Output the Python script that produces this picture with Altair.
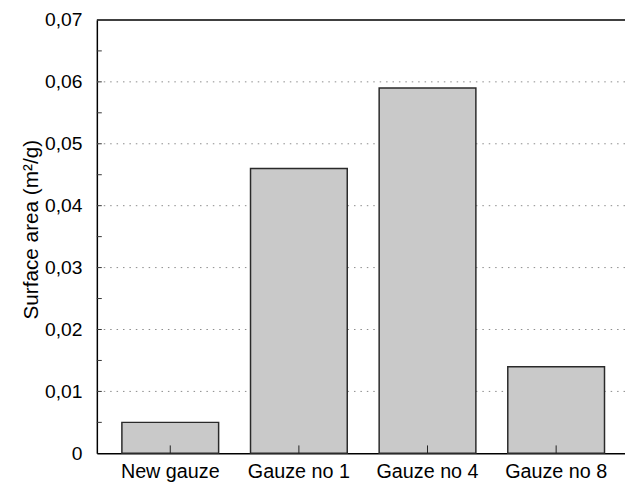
import altair as alt
import pandas as pd

categories = ["New gauze", "Gauze no 1", "Gauze no 4", "Gauze no 8"]
values = [0.005, 0.046, 0.059, 0.014]
grid_values = [0.01, 0.02, 0.03, 0.04, 0.05, 0.06]
label_values = [0, 0.01, 0.02, 0.03, 0.04, 0.05, 0.06, 0.07]
minor_ticks = [0.005, 0.01, 0.015, 0.02, 0.025, 0.03, 0.035, 0.04, 0.045,
               0.05, 0.055, 0.06, 0.065]
y_max = 0.07
y_title = "Surface area (m²/g)"

W, H = 535, 439
FONT = "Liberation Sans"

df = pd.DataFrame({"cat": categories, "val": values})
ticks_df = pd.DataFrame({"t": minor_ticks})
top_df = pd.DataFrame({"t": [y_max]})

x_scale = alt.Scale(domain=categories, paddingInner=0.248, paddingOuter=0.177, align=0.55)
y_scale = alt.Scale(domain=[0, y_max], nice=False, zero=True)

bars = alt.Chart(df).mark_bar(
    fill="#c9c9c9", stroke="#2a2a2a", strokeWidth=1.5
).encode(
    x=alt.X("cat:N", scale=x_scale, sort=categories,
            axis=alt.Axis(title=None, labelAngle=0, ticks=False, tickSize=0,
                          labelPadding=8, labelFont=FONT, labelFontSize=20,
                          labelColor="black", domainColor="black",
                          domainWidth=1.5, grid=False)),
    y=alt.Y("val:Q", scale=y_scale,
            axis=alt.Axis(title=y_title, values=label_values,
                          labelExpr="datum.value == 0 ? '0' : replace(format(datum.value, '.2f'), '.', ',')",
                          ticks=False, tickSize=0, labelPadding=15,
                          labelFont=FONT, labelFontSize=19.5, labelColor="black",
                          titleFont=FONT, titleFontSize=21, titleFontWeight="normal",
                          titleColor="black", titleX=-66, titleY=212,
                          titleBaseline="middle", titleAngle=270,
                          domainColor="black", domainWidth=1.5,
                          grid=False)),
)

grid = alt.Chart(pd.DataFrame({"g": grid_values})).mark_rule(
    color="#8a8a8a", strokeDash=[1.5, 5], strokeWidth=1
).encode(y=alt.Y("g:Q", scale=y_scale))

minor = alt.Chart(ticks_df).mark_rule(color="#333", strokeWidth=1).encode(
    y=alt.Y("t:Q", scale=y_scale), x=alt.value(0), x2=alt.value(5)
)

xticks = alt.Chart(df).mark_rule(color="#222", strokeWidth=1).encode(
    x=alt.X("cat:N", scale=x_scale, sort=categories), y=alt.value(H), y2=alt.value(H - 8)
)

top = alt.Chart(top_df).mark_rule(color="black", strokeWidth=1.5).encode(
    y=alt.Y("t:Q", scale=y_scale), x=alt.value(0), x2=alt.value(W)
)

chart = alt.layer(grid, bars, xticks, minor, top).properties(
    width=W, height=H,
    autosize=alt.AutoSizeParams(type="none"),
    padding={"left": 90, "top": 9, "right": 0, "bottom": 30},
    background="white",
).configure_view(stroke=None)

chart.save("out.html", embed_options={"renderer": "svg", "actions": False})
